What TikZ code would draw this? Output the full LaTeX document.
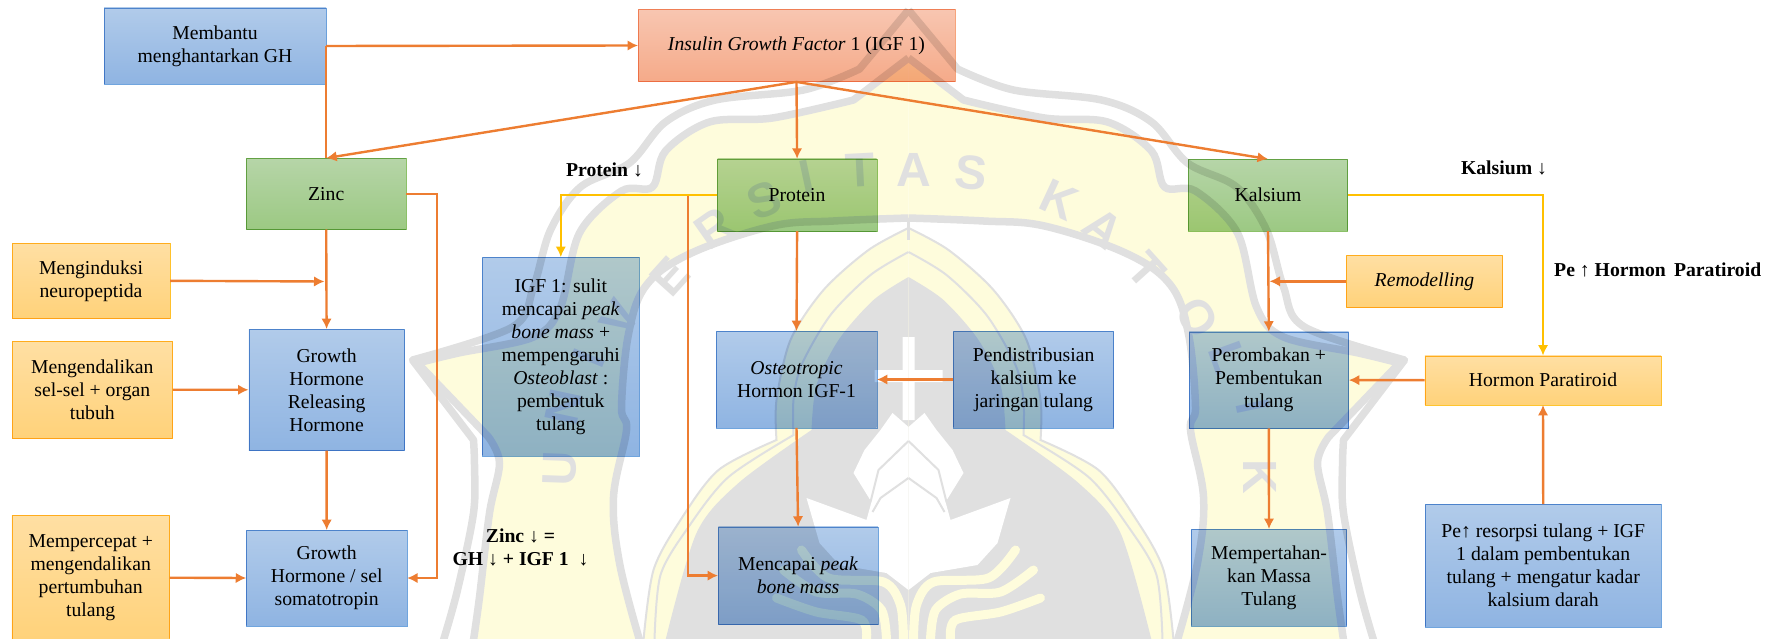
\documentclass[tikz,border=0pt]{standalone}
\usepackage{fontspec}
\setmainfont{Liberation Serif}
\setsansfont{Liberation Sans}
\usetikzlibrary{arrows.meta}
\definecolor{wmGray}{HTML}{E0E0E0}
\definecolor{wmYellow}{HTML}{FEFCDC}
\definecolor{orangeLine}{HTML}{ED7D31}
\definecolor{goldLine}{HTML}{FFC000}
\definecolor{blueTop}{HTML}{B1CBEA}
\definecolor{blueEnd}{HTML}{8FB4E2}
\definecolor{blueEdge}{HTML}{70A5DE}
\definecolor{greenTop}{HTML}{B6D5A8}
\definecolor{greenEnd}{HTML}{9CC983}
\definecolor{greenEdge}{HTML}{8CC168}
\definecolor{goldTop}{HTML}{FFDFA3}
\definecolor{goldEnd}{HTML}{FFD27A}
\definecolor{goldEdge}{HTML}{FFC52E}
\definecolor{roseTop}{HTML}{F8C6B1}
\definecolor{roseEnd}{HTML}{F5AA89}
\definecolor{roseEdge}{HTML}{F6A47C}
\tikzset{%
  >={Latex[width=10.5pt,length=10.5pt]},
  % Specifications for style of nodes:
      base/.style = {rectangle, draw, inner sep=0pt, align=center,
                     font=\fontsize{19.7}{23}\selectfont},
   blueBox/.style = {base, draw=blueEdge, top color=blueTop, bottom color=blueEnd},
  greenBox/.style = {base, draw=greenEdge, top color=greenTop, bottom color=greenEnd},
   goldBox/.style = {base, draw=goldEdge, top color=goldTop, bottom color=goldEnd},
   roseBox/.style = {base, draw=roseEdge, top color=roseTop, bottom color=roseEnd},
  noteText/.style = {align=center, font=\fontsize{19.7}{23}\selectfont\bfseries},
  wmLetter/.style = {wmGray, font=\fontsize{48}{48}\selectfont\sffamily\bfseries},
  % Specifications for style of connectors:
      link/.style = {->, orangeLine, line width=2.4pt},
  goldLink/.style = {->, goldLine, line width=2.6pt},
    wmLine/.style = {wmGray, line width=7.5pt, line join=round},
    wmWave/.style = {wmYellow, line width=9pt, line cap=round},
}
% Half outlines of the watermark, measured from its axis
\newcommand{\wmOuter}{(0,10) -- (49,69) -- plot[smooth,tension=.55] coordinates {(49,69) (105,90) (193,100) (243,122) (279,163) (328,187) (358,230) (375,287) (396,327) (496,360)}
  -- plot[smooth,tension=.55] coordinates {(435,440) (434,465) (435,513) (451,590) (465,640)}}
\newcommand{\wmBand}{(0,58) -- (55,100) -- plot[smooth,tension=.55] coordinates {(55,100) (136,118) (199,122) (243,151) (256,187) (287,191) (329,233) (348,307) (375,337) (450,353) (491,363)}
  -- plot[smooth,tension=.55] coordinates {(420,437) (409,463) (419,513) (429,597) (435,640)}}
\newcommand{\wmArc}{plot[smooth,tension=.6] coordinates {(0,218) (75,221) (136,226) (217,253) (262,285) (280,334) (287,407) (282,430) (295,497) (289,563) (269,640)}}
\newcommand{\wmShieldA}{(0,228) -- plot[smooth,tension=.5] coordinates {(0,228) (40,250) (85,290) (118,340) (132,400) (132,440)} -- plot[smooth,tension=.5] coordinates {(132,440) (190,470) (228,520) (255,570) (265,640)}}
\newcommand{\wmShieldB}{(0,252) -- plot[smooth,tension=.5] coordinates {(0,252) (38,275) (78,315) (107,365) (115,400) (115,435)} -- plot[smooth,tension=.5] coordinates {(115,435) (180,477) (220,527) (248,575) (254,640)}}
\newcommand{\wmShieldC}{(0,277) -- plot[smooth,tension=.5] coordinates {(0,277) (35,300) (70,340) (92,385) (97,430)} -- plot[smooth,tension=.5] coordinates {(97,430) (170,483) (212,533) (243,640)}}
\newcommand{\wmLotus}{(0,427) -- (16,413) -- (28,430) -- (44,450) -- (55,473) -- (37,502) -- (42,520) -- (102,498) -- (89,543) -- (69,565) -- (22,573) -- (0,590)}

\begin{document}
\begin{tikzpicture}[x=1pt, y=-1pt]
  \useasboundingbox (0,0) rectangle (1777,639);

  % Watermark behind the diagram
  \foreach \side in {1,-1} {
    \begin{scope}[shift={(908.5,0)}, xscale=\side]
      \draw[wmLine] \wmOuter;
      \fill[wmYellow] \wmBand -- (0,640) -- cycle;
      \draw[wmLine] \wmBand;
      \fill[white] \wmArc -- (0,640) -- cycle;
      \draw[wmLine] \wmArc;
      \fill[wmYellow] \wmShieldA -- (0,640) -- cycle;
      \draw[wmGray, line width=2pt] \wmShieldA;
      \draw[wmGray, line width=2pt] \wmShieldB;
      \fill[wmGray] \wmShieldC -- (0,640) -- cycle;
      \fill[white, line join=round] \wmLotus -- cycle;
      \draw[wmGray, line width=2pt] (0,441) -- (30,470) -- (38,502);
      \draw[wmGray, line width=2pt] (0,478) -- (28,498) -- (36,512);
      \draw[wmWave] plot[smooth] coordinates {(5,640) (8,605) (25,582) (80,578) (107,550)};
      \draw[wmWave] plot[smooth] coordinates {(22,640) (27,610) (52,594) (92,592) (125,570)};
      \draw[wmWave] plot[smooth] coordinates {(42,640) (47,620) (92,612) (132,598)};
      \draw[wmGray, line width=3pt] (0,218) -- (0,240);
      % arm of the cross
      \fill[white] (0,337) -- (6,337) -- (6,370) -- (34,370) -- (34,382) -- (6,382) -- (6,420) -- (0,420) -- cycle;
    \end{scope}
  }
  \foreach \ch/\px/\py/\rot [count=\i] in {U/560/469/88, N/564/407/78, I/589/358/68, V/620/318/58,
      E/670/277/48, R/714/228/35, S/764/200/22, I/807/177/12, T/860/170/3, A/914/170/0, S/971/173/-6,
      K/1059/200/-25, A/1103/228/-38, T/1147/270/-48, O/1197/318/-58, L/1228/358/-70, I/1253/407/-78, K/1260/477/-90}
    \node (letter\i) [wmLetter, rotate=\rot] at (\px,\py) {\ch};

  % Specification of nodes (position, etc.)
  \begin{scope}[blend mode=multiply]
  \node (membantu)   [blueBox, minimum width=222pt, minimum height=76pt]       at (215,46)      {Membantu\\menghantarkan GH};
  \node (igf)        [roseBox, minimum width=316.5pt, minimum height=72.4pt]   at (796.5,45.5)  {\textit{Insulin Growth Factor} 1 (IGF 1)};

  \node (zinc)       [greenBox, minimum width=159.5pt, minimum height=71pt]    at (326.2,193.8) {Zinc};
  \node (induksi)    [goldBox, minimum width=158pt, minimum height=75pt]       at (91,280.8)    {Menginduksi\\neuropeptida};
  \node (kendali)    [goldBox, minimum width=160.6pt, minimum height=96.7pt]   at (92.3,389.7)  {Mengendalikan\\sel-sel + organ\\tubuh};
  \node (ghrh)       [blueBox, minimum width=155.7pt, minimum height=121pt]    at (326.6,389.8) {Growth\\Hormone\\Releasing\\Hormone};
  \node (gh)         [blueBox, minimum width=160.5pt, minimum height=95.4pt]   at (326.7,578)   {Growth\\Hormone / sel\\somatotropin};
  \node (percepat)   [goldBox, minimum width=157.5pt, minimum height=124.7pt]  at (90.7,577.7)  {Mempercepat +\\mengendalikan\\pertumbuhan\\tulang};

  \node (sulit)      [blueBox, minimum width=156.5pt, minimum height=198.4pt]  at (560.8,356.5) {IGF 1: sulit\\mencapai \textit{peak}\\\textit{bone mass} +\\mempengaruhi\\\textit{Osteoblast} :\\pembentuk\\tulang};
  \node (protein)    [greenBox, minimum width=159.2pt, minimum height=72pt]    at (797.1,195)   {Protein};
  \node (osteo)      [blueBox, minimum width=160.4pt, minimum height=96.4pt]   at (796.5,379.5) {\textit{Osteotropic}\\Hormon IGF-1};
  \node (distribusi) [blueBox, minimum width=160pt, minimum height=96.4pt]     at (1033.6,379.5) {Pendistribusian\\kalsium ke\\jaringan tulang};
  \node (mencapai)   [blueBox, minimum width=159.7pt, minimum height=97.3pt]   at (798.1,575.6) {Mencapai \textit{peak}\\\textit{bone mass}};

  \node (kalsium)    [greenBox, minimum width=159.1pt, minimum height=71.7pt]  at (1268,195.1)  {Kalsium};
  \node (remodel)    [goldBox, minimum width=155.7pt, minimum height=52pt]     at (1424.5,281.3) {\textit{Remodelling}};
  \node (rombak)     [blueBox, minimum width=159.6pt, minimum height=96.3pt]   at (1268.8,380.1) {Perombakan +\\Pembentukan\\tulang};
  \node (tahan)      [blueBox, minimum width=155.3pt, minimum height=96.7pt]   at (1269,577.6)  {Mempertahan-\\kan Massa\\Tulang};
  \node (paratiroid) [goldBox, minimum width=236.2pt, minimum height=49pt]     at (1543,380.2)  {Hormon Paratiroid};
  \node (resorpsi)   [blueBox, minimum width=235.5pt, minimum height=122.4pt]  at (1543.2,565.5) {Pe↑ resorpsi tulang + IGF\\1 dalam pembentukan\\tulang + mengatur kadar\\kalsium darah};
  \end{scope}

  % Texts beside the lines
  \node (proteinlow) [noteText] at (604.5,170)  {Protein {\mdseries↓}};
  \node (kalsiumlow) [noteText] at (1504,168)   {Kalsium {\mdseries↓}};
  \node (pthup)      [noteText] at (1657.7,270) {Pe {\mdseries↑} Hormon\, Paratiroid};
  \node (zinclow)    [noteText] at (520.5,547.5) {Zinc {\mdseries↓} =\\GH {\mdseries↓} + IGF 1\enspace{\mdseries↓}};

  % Specification of lines between nodes specified above
  \coordinate (zincturn) at (436.7,193.8);
  \coordinate (proteinturn) at (688,195);
  \coordinate (induksiend) at (324.5,281.5);
  \coordinate (remodelend) at (1269.5,281.3);

  \draw[link]   (membantu.east) -- (igf.west);
  \draw[link,-] (membantu.east) -- (zinc.north);
  \draw[link]   (igf.south) -- (zinc.north);
  \draw[link]   (igf.south) -- (protein.north);
  \draw[link]   (igf.south) -- (kalsium.north);

  \draw[link]   (zinc.south) -- (ghrh.north);
  \draw[link]   (ghrh.south) -- (gh.north);
  \draw[link]   (zinc.east) -- (zincturn) |- (gh.east);
  \draw[link]   (induksi.east) -- (induksiend);
  \draw[link]   (kendali.east) -- (ghrh.west);
  \draw[link]   (percepat.east) -- (gh.west);

  \draw[link]   (proteinturn) |- (mencapai.west);
  \draw[link]   (protein.south) -- (osteo.north);
  \draw[link]   (osteo.south) -- (mencapai.north);
  \draw[link]   (distribusi.west) -- (osteo.east);
  \draw[goldLink] (protein.west) -| (sulit.north);

  \draw[link]   (kalsium.south) -- (rombak.north);
  \draw[link]   (remodel.west) -- (remodelend);
  \draw[link]   (rombak.south) -- (tahan.north);
  \draw[link]   (paratiroid.west) -- (rombak.east);
  \draw[link]   (resorpsi.north) -- (paratiroid.south);
  \draw[goldLink] (kalsium.east) -| (paratiroid.north);
\end{tikzpicture}
\end{document}
